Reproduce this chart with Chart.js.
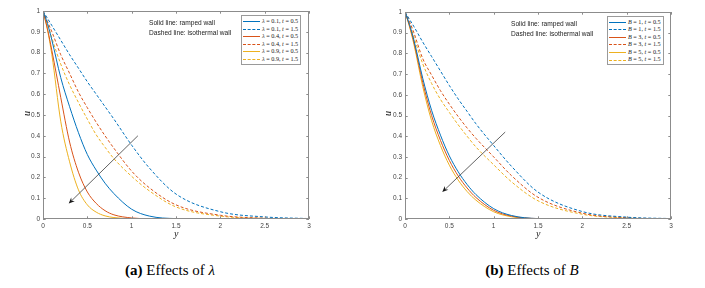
<!DOCTYPE html>
<html>
<head>
<meta charset="utf-8">
<script src="https://cdn.jsdelivr.net/npm/chart.js@4"></script>
<style>
  body { margin: 0; background: #fff; width: 705px; height: 288px; overflow: hidden; position: relative; }
  canvas { position: absolute; top: 0; }
  .note { position: absolute; font: 6.6px "Liberation Sans", Arial, sans-serif; color: #222; white-space: nowrap; }
  .legend { position: absolute; border: 1px solid #9a9a9a; background: #fff; padding: 1px 2px 1px 1px; }
  .legend .row { height: 7.6px; line-height: 7.6px; white-space: nowrap; font: 6.2px "Liberation Serif", "Times New Roman", serif; color: #222; }
  .legend .swatch { display: inline-block; width: 17px; height: 0; vertical-align: middle; margin-right: 2px; }
  .axtitle { position: absolute; font: italic 10px "Liberation Serif", "Times New Roman", serif; color: #222; }
  .caption { position: absolute; top: 262px; font: 15px "Liberation Serif", "Times New Roman", serif; color: #000; white-space: nowrap; transform: translateX(-50%); }
</style>
</head>
<body>
<canvas id="chart-lambda" width="352" height="240" style="left:0"></canvas>
<canvas id="chart-b" width="353" height="240" style="left:352px"></canvas>

<div class="note" style="left:149px; top:19px">Solid line: ramped wall</div>
<div class="note" style="left:149px; top:29px">Dashed line: isothermal wall</div>
<div class="note" style="left:511px; top:19.5px">Solid line: ramped wall</div>
<div class="note" style="left:511px; top:29.5px">Dashed line: isothermal wall</div>

<div id="legend-lambda" class="legend" style="left:241px; top:15px"></div>
<div id="legend-b" class="legend" style="left:607px; top:15.5px"></div>

<div class="axtitle" style="left:24px; top:108px; transform: rotate(-90deg)">u</div>
<div class="axtitle" style="left:174px; top:228px">y</div>
<div class="axtitle" style="left:385px; top:108px; transform: rotate(-90deg)">u</div>
<div class="axtitle" style="left:536px; top:228px">y</div>

<div class="caption" style="left:170px"><b>(a)</b> Effects of <i>λ</i></div>
<div class="caption" style="left:532px"><b>(b)</b> Effects of <i>B</i></div>

<script>
// distance from the plate
const yPos = [0, 0.05, 0.1, 0.2, 0.3, 0.4, 0.5, 0.6, 0.7, 0.8, 1.0, 1.2, 1.5, 2, 2.5, 3];

// (a) effects of lambda
const lambdaValues = ["0.1", "0.4", "0.9"];
const uLam01Ramped = [1, 0.94, 0.86, 0.68, 0.54, 0.415, 0.31, 0.235, 0.172, 0.122, 0.047, 0.014, 0.002, 0, 0, 0];
const uLam01Iso    = [1, 0.965, 0.93, 0.86, 0.79, 0.725, 0.66, 0.60, 0.54, 0.48, 0.355, 0.245, 0.12, 0.035, 0.01, 0.002];
const uLam04Ramped = [1, 0.915, 0.81, 0.585, 0.37, 0.225, 0.13, 0.075, 0.04, 0.02, 0.005, 0.001, 0, 0, 0, 0];
const uLam04Iso    = [1, 0.95, 0.90, 0.79, 0.70, 0.61, 0.535, 0.465, 0.40, 0.34, 0.23, 0.15, 0.068, 0.018, 0.004, 0];
const uLam09Ramped = [1, 0.91, 0.79, 0.47, 0.275, 0.14, 0.068, 0.033, 0.015, 0.007, 0.001, 0, 0, 0, 0, 0];
const uLam09Iso    = [1, 0.94, 0.87, 0.745, 0.645, 0.56, 0.48, 0.405, 0.345, 0.29, 0.205, 0.135, 0.058, 0.014, 0.003, 0];

// (b) effects of B
const bValues = ["1", "3", "5"];
const uB1Ramped = [1, 0.94, 0.865, 0.68, 0.525, 0.405, 0.305, 0.228, 0.167, 0.118, 0.05, 0.017, 0.002, 0, 0, 0];
const uB1Iso    = [1, 0.965, 0.93, 0.855, 0.785, 0.715, 0.645, 0.58, 0.52, 0.46, 0.355, 0.255, 0.13, 0.036, 0.009, 0.002];
const uB3Ramped = [1, 0.935, 0.855, 0.66, 0.50, 0.38, 0.283, 0.208, 0.15, 0.104, 0.042, 0.014, 0.002, 0, 0, 0];
const uB3Iso    = [1, 0.955, 0.90, 0.775, 0.695, 0.62, 0.555, 0.495, 0.44, 0.39, 0.30, 0.21, 0.105, 0.028, 0.006, 0.001];
const uB5Ramped = [1, 0.93, 0.845, 0.64, 0.475, 0.355, 0.26, 0.188, 0.133, 0.091, 0.035, 0.011, 0.001, 0, 0, 0];
const uB5Iso    = [1, 0.945, 0.88, 0.75, 0.655, 0.578, 0.515, 0.455, 0.40, 0.348, 0.262, 0.18, 0.088, 0.023, 0.005, 0];

const times = ["0.5", "1.5"];
const xTicks = [0, 0.5, 1, 1.5, 2, 2.5, 3];

// arrow annotation, data coords [y, u]
const arrowLambda = { from: [1.07, 0.40], to: [0.29, 0.074] };
const arrowB = { from: [1.13, 0.42], to: [0.42, 0.13] };

const colors = ["#0072BD", "#D95319", "#EDB120"];

function makeDatasets(series, param, values) {
    const out = [];
    series.forEach((pair, i) => {
        pair.forEach((vals, j) => {
            out.push({
                label: param + " = " + values[i] + ", t = " + times[j],
                data: vals.map((u, k) => ({ x: yPos[k], y: u })),
                borderColor: colors[i],
                backgroundColor: colors[i],
                borderWidth: 1,
                borderDash: j === 1 ? [3, 2] : [],
                pointRadius: 0,
                cubicInterpolationMode: "monotone",
                fill: false,
            });
        });
    });
    return out;
}

// MATLAB-ish box with inward ticks and an arrow
const axesBox = {
    id: "axesBox",
    afterDatasetsDraw(chart, args, opts) {
        const { ctx, chartArea: a, scales: { x, y } } = chart;
        ctx.save();
        ctx.strokeStyle = "#8c8c8c";
        ctx.lineWidth = 1;
        ctx.strokeRect(a.left + 0.5, a.top + 0.5, a.right - a.left - 1, a.bottom - a.top - 1);
        ctx.beginPath();
        x.ticks.forEach((t) => {
            const px = Math.round(x.getPixelForValue(t.value)) + 0.5;
            ctx.moveTo(px, a.bottom); ctx.lineTo(px, a.bottom - 2.7);
            ctx.moveTo(px, a.top); ctx.lineTo(px, a.top + 2.7);
        });
        y.ticks.forEach((t) => {
            const py = Math.round(y.getPixelForValue(t.value)) + 0.5;
            ctx.moveTo(a.left, py); ctx.lineTo(a.left + 2.7, py);
            ctx.moveTo(a.right, py); ctx.lineTo(a.right - 2.7, py);
        });
        ctx.stroke();

        const arr = opts.arrow;
        const x0 = x.getPixelForValue(arr.from[0]), y0 = y.getPixelForValue(arr.from[1]);
        const x1 = x.getPixelForValue(arr.to[0]), y1 = y.getPixelForValue(arr.to[1]);
        const ang = Math.atan2(y1 - y0, x1 - x0);
        ctx.strokeStyle = "#3a3a3a";
        ctx.fillStyle = "#1a1a1a";
        ctx.lineWidth = 0.8;
        ctx.beginPath();
        ctx.moveTo(x0, y0);
        ctx.lineTo(x1 - 4 * Math.cos(ang), y1 - 4 * Math.sin(ang));
        ctx.stroke();
        ctx.beginPath();
        ctx.moveTo(x1, y1);
        ctx.lineTo(x1 - 6 * Math.cos(ang) + 2.6 * Math.sin(ang), y1 - 6 * Math.sin(ang) - 2.6 * Math.cos(ang));
        ctx.lineTo(x1 - 4 * Math.cos(ang), y1 - 4 * Math.sin(ang));
        ctx.lineTo(x1 - 6 * Math.cos(ang) - 2.6 * Math.sin(ang), y1 - 6 * Math.sin(ang) + 2.6 * Math.cos(ang));
        ctx.closePath();
        ctx.fill();
        ctx.restore();
    },
};

const tickFont = { family: "'Liberation Sans', Arial, sans-serif", size: 6.5 };
const fmt = (v) => String(Math.round(v * 10) / 10);

function makeChart(id, datasets, yWidth, pad, arrow) {
    return new Chart(document.getElementById(id), {
        type: "line",
        data: { datasets: datasets },
        options: {
            responsive: false,
            animation: false,
            layout: { padding: pad },
            scales: {
                x: {
                    type: "linear",
                    min: 0,
                    max: 3,
                    afterBuildTicks: (s) => { s.ticks = xTicks.map((v) => ({ value: v })); },
                    grid: { display: false, drawTicks: false },
                    border: { display: false },
                    ticks: { font: tickFont, color: "#444", padding: 3, maxRotation: 0, callback: fmt },
                    afterFit: (s) => { s.height = 21; },
                },
                y: {
                    min: 0,
                    max: 1,
                    ticks: { stepSize: 0.1, font: tickFont, color: "#444", padding: 3, callback: fmt },
                    grid: { display: false, drawTicks: false },
                    border: { display: false },
                    afterFit: (s) => { s.width = yWidth; },
                },
            },
            plugins: {
                legend: { display: false },
                tooltip: { enabled: false },
                axesBox: { arrow: arrow },
            },
        },
        plugins: [axesBox],
    });
}

function buildLegend(el, datasets, param) {
    datasets.forEach((ds) => {
        const parts = ds.label.split(", ");
        const row = document.createElement("div");
        row.className = "row";
        const sw = document.createElement("span");
        sw.className = "swatch";
        sw.style.borderTop = "1px " + (ds.borderDash.length ? "dashed " : "solid ") + ds.borderColor;
        row.appendChild(sw);
        const txt = document.createElement("span");
        const pv = parts[0].split(" = ")[1];
        const tv = parts[1].split(" = ")[1];
        txt.innerHTML = "<i>" + param + "</i> = " + pv + ", <i>t</i> = " + tv;
        row.appendChild(txt);
        el.appendChild(row);
    });
}

const lambdaSets = makeDatasets(
    [[uLam01Ramped, uLam01Iso], [uLam04Ramped, uLam04Iso], [uLam09Ramped, uLam09Iso]],
    "λ", lambdaValues
);
const bSets = makeDatasets(
    [[uB1Ramped, uB1Iso], [uB3Ramped, uB3Iso], [uB5Ramped, uB5Iso]],
    "B", bValues
);

makeChart("chart-lambda", lambdaSets, 43, { top: 11, right: 43, bottom: 0, left: 0 }, arrowLambda);
makeChart("chart-b", bSets, 53, { top: 12, right: 34, bottom: 0, left: 0 }, arrowB);

buildLegend(document.getElementById("legend-lambda"), lambdaSets, "λ");
buildLegend(document.getElementById("legend-b"), bSets, "B");
</script>
</body>
</html>
